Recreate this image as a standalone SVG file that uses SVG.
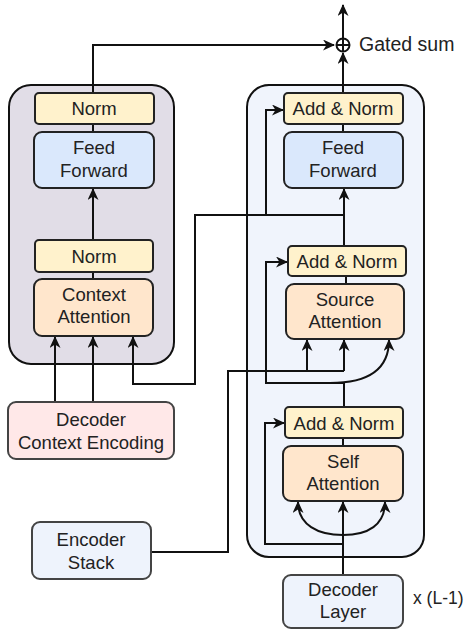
<svg xmlns="http://www.w3.org/2000/svg" width="471" height="630" viewBox="0 0 471 630">
<style>
text{font-family:"Liberation Sans",Arial,sans-serif;font-size:18.5px;fill:#222;text-anchor:middle}
.c{stroke:#111;stroke-width:2;fill:none}
.box{stroke:#222;stroke-width:2}
.norm{fill:#fff2cc}
.ff{fill:#dae8fc}
.att{fill:#ffe6cc}
</style>
<defs>
<marker id="ah" markerWidth="13" markerHeight="11" refX="11" refY="5.5" orient="auto" markerUnits="userSpaceOnUse">
<path d="M0,0 L12,5.5 L0,11 L3.5,5.5 z" fill="#111"/>
</marker>
</defs>
<g id="left-container"><rect x="9" y="85" width="165" height="279" rx="22" fill="#e1dde7" stroke="#111" stroke-width="2"/></g>
<g id="right-container"><rect x="247" y="85" width="177" height="472" rx="22" fill="#f0f4fc" stroke="#111" stroke-width="2"/></g>
<g id="connectors">
<path class="c" d="M93,93 V45 H334" marker-end="url(#ah)"/>
<path class="c" d="M93,124 V132"/>
<path class="c" d="M93,240 V189" marker-end="url(#ah)"/>
<path class="c" d="M93,272 V279"/>
<path class="c" d="M55,402 V337" marker-end="url(#ah)"/>
<path class="c" d="M93,402 V337" marker-end="url(#ah)"/>
<path class="c" d="M344,215 H195 V384 H133 V337" marker-end="url(#ah)"/>
<path class="c" d="M344,246 V189" marker-end="url(#ah)"/>
<path class="c" d="M344,215 H266 V110 H283" marker-end="url(#ah)"/>
<path class="c" d="M343,124 V132"/>
<path class="c" d="M343,93 V53" marker-end="url(#ah)"/>
<path class="c" d="M343,38 V5" marker-end="url(#ah)"/>
<path class="c" d="M346,276 V284"/>
<path class="c" d="M151,552 H228 V371 H344"/>
<path class="c" d="M307,371 V340" marker-end="url(#ah)"/>
<path class="c" d="M344,371 V340" marker-end="url(#ah)"/>
<path class="c" d="M344,407 V383 H266 V262 H287" marker-end="url(#ah)"/>
<path class="c" d="M330,383 Q389,383 389,340" marker-end="url(#ah)"/>
<path class="c" d="M343,438 V446"/>
<path class="c" d="M343,575 V502" marker-end="url(#ah)"/>
<path class="c" d="M343,535 C318,535 298,525 298,502" marker-end="url(#ah)"/>
<path class="c" d="M343,535 C368,535 385,525 385,502" marker-end="url(#ah)"/>
<path class="c" d="M343,544 H265 V423 H284" marker-end="url(#ah)"/>
</g>
<g id="gated-sum">
<circle cx="343" cy="45" r="6.5" fill="#fff" stroke="#111" stroke-width="2"/>
<path d="M336.5,45 H349.5 M343,38.5 V51.5" stroke="#111" stroke-width="2"/>
<text x="359" y="51" style="text-anchor:start;font-size:19.5px">Gated sum</text>
</g>
<g id="left-norm-top"><rect class="box norm" x="35" y="93" width="119" height="31" rx="4"/><text x="94" y="115">Norm</text></g>
<g id="left-ff"><rect class="box ff" x="34" y="132" width="120" height="56" rx="8"/><text x="94" y="154">Feed</text><text x="94" y="177">Forward</text></g>
<g id="left-norm"><rect class="box norm" x="35" y="240" width="118" height="32" rx="4"/><text x="94" y="263">Norm</text></g>
<g id="context-attention"><rect class="box att" x="34" y="279" width="119" height="57" rx="8"/><text x="94" y="301">Context</text><text x="94" y="323">Attention</text></g>
<g id="decoder-context-encoding"><rect x="8" y="402" width="166" height="57" rx="8" fill="#ffe8e8" stroke="#444" stroke-width="2"/><text x="91" y="426">Decoder</text><text x="91" y="449">Context Encoding</text></g>
<g id="encoder-stack"><rect x="32" y="522" width="119" height="57" rx="8" fill="#eef3fc" stroke="#444" stroke-width="2"/><text x="91" y="546">Encoder</text><text x="91" y="569">Stack</text></g>
<g id="add-norm-top"><rect class="box norm" x="284" y="93" width="119" height="31" rx="4"/><text x="343" y="115">Add &amp; Norm</text></g>
<g id="right-ff"><rect class="box ff" x="284" y="132" width="119" height="56" rx="8"/><text x="343" y="154">Feed</text><text x="343" y="177">Forward</text></g>
<g id="add-norm-mid"><rect class="box norm" x="288" y="246" width="118" height="30" rx="4"/><text x="347" y="268">Add &amp; Norm</text></g>
<g id="source-attention"><rect class="box att" x="286" y="284" width="118" height="55" rx="8"/><text x="345" y="306">Source</text><text x="345" y="328">Attention</text></g>
<g id="add-norm-low"><rect class="box norm" x="285" y="407" width="118" height="31" rx="4"/><text x="344" y="430">Add &amp; Norm</text></g>
<g id="self-attention"><rect class="box att" x="283" y="446" width="120" height="55" rx="8"/><text x="343" y="468">Self</text><text x="343" y="490">Attention</text></g>
<g id="decoder-layer"><rect x="283" y="575" width="120" height="53" rx="8" fill="#eef3fc" stroke="#444" stroke-width="2"/><text x="343" y="596">Decoder</text><text x="343" y="618">Layer</text></g>
<text x="413" y="604" style="text-anchor:start;font-size:17.5px">x (L-1)</text>
</svg>
